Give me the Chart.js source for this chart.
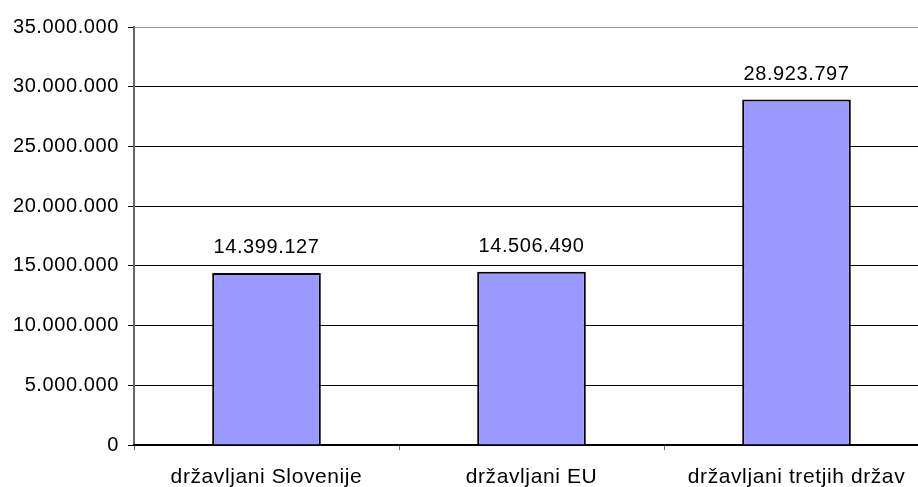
<!DOCTYPE html>
<html>
<head>
<meta charset="utf-8">
<script src="https://cdn.jsdelivr.net/npm/chart.js@4"></script>
<style>
html,body{margin:0;padding:0;background:#fff;overflow:hidden;}
#wrap{width:930px;height:487px;position:relative;}
</style>
</head>
<body>
<div id="wrap"><canvas id="c" width="930" height="487"></canvas></div>
<script>
const categories = ["državljani Slovenije", "državljani EU", "državljani tretjih držav"];
const values = [14399127, 14506490, 28923797];
const valueLabels = ["14.399.127", "14.506.490", "28.923.797"];
const yTicks = [0, 5000000, 10000000, 15000000, 20000000, 25000000, 30000000, 35000000];

function fmt(v){ return String(v).replace(/\B(?=(\d{3})+(?!\d))/g, "."); }

const FONT = "'Liberation Sans', Arial, sans-serif";

const spacingPlugin = {
  id: 'spacing',
  beforeInit(chart){ chart.ctx.letterSpacing = '0.6px'; },
  beforeDraw(chart){ chart.ctx.letterSpacing = '0.6px'; }
};

const labelPlugin = {
  id: 'valLabels',
  afterDatasetsDraw(chart){
    const ctx = chart.ctx;
    const meta = chart.getDatasetMeta(0);
    ctx.save();
    ctx.letterSpacing = '0.6px';
    ctx.font = "20px " + FONT;
    ctx.fillStyle = "#000";
    ctx.textAlign = "center";
    ctx.textBaseline = "alphabetic";
    meta.data.forEach((bar, i) => {
      ctx.fillText(valueLabels[i], bar.x, bar.y - 20);
    });
    ctx.restore();
  }
};

new Chart(document.getElementById('c'), {
  type: 'bar',
  data: {
    labels: categories,
    datasets: [{
      data: values,
      backgroundColor: '#9999FF',
      borderColor: '#000000',
      borderWidth: 2,
      barPercentage: 0.41,
      categoryPercentage: 1.0
    }]
  },
  options: {
    responsive: false,
    animation: false,
    devicePixelRatio: 1,
    layout: { padding: { top: 27, right: 1, left: 0, bottom: 0 } },
    plugins: { legend: { display: false }, tooltip: { enabled: false } },
    scales: {
      y: {
        min: 0, max: 35000000,
        afterFit(s){ s.width = 134; },
        afterBuildTicks(s){ s.ticks = yTicks.map(v => ({value: v})); },
        ticks: {
          color: '#000',
          font: { family: FONT, size: 20 },
          padding: 9,
          callback: v => fmt(v)
        },
        grid: {
          color: c => (c.tick && c.tick.value === 35000000) ? '#999999' : '#000000',
          tickColor: '#000000',
          tickLength: 6,
          lineWidth: 1
        },
        border: { color: '#666666', width: 2 }
      },
      x: {
        afterFit(s){ s.height = 42; },
        ticks: {
          color: '#000',
          font: { family: FONT, size: 21 },
          padding: 15,
          maxRotation: 0
        },
        grid: {
          offset: true,
          drawOnChartArea: false,
          tickLength: 5,
          tickColor: '#666666'
        },
        border: { color: '#000000', width: 2 }
      }
    }
  },
  plugins: [spacingPlugin, labelPlugin]
});
</script>
</body>
</html>
